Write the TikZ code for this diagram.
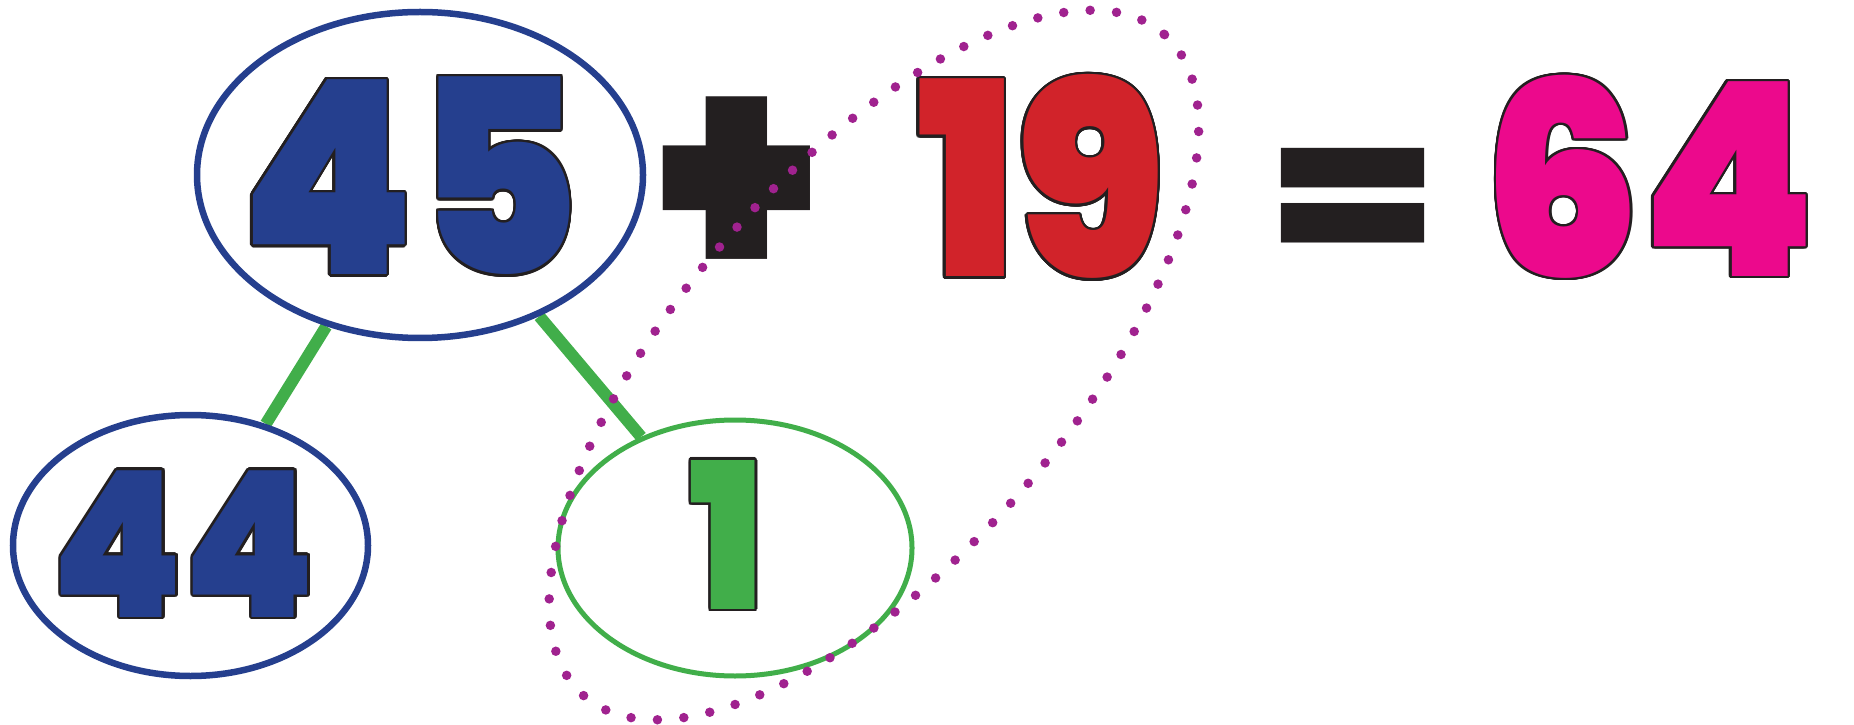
\documentclass[tikz,border=0pt]{standalone}
\usepackage{fontspec}
\usepackage{xcolor}
\usepackage{contour}
\usetikzlibrary{shapes.geometric,positioning,backgrounds}
\IfFontExistsTF{Poppins Black}{\newfontfamily\numfont{Poppins Black}[FakeStretch=0.92]}{\newfontfamily\numfont{Poppins}[UprightFont={* Bold},FakeStretch=0.92]}
\definecolor{ovalblue}{RGB}{37,63,142}
\definecolor{ovalgreen}{RGB}{65,174,74}
\definecolor{numred}{RGB}{209,35,42}
\definecolor{numpink}{RGB}{236,9,140}
\definecolor{inkblack}{RGB}{35,31,32}
\definecolor{dotpurple}{RGB}{160,34,143}
\contourlength{0.7pt}
\contournumber{24}
\newcommand\bignum[2]{{\numfont\fontsize{77}{77}\selectfont\color{#1}\contour{inkblack}{#2}}}
\newcommand\smallnum[2]{{\numfont\fontsize{58}{58}\selectfont\color{#1}\contour{inkblack}{#2}}}
\tikzset{
  oval/.style={ellipse, draw=#1, line width=0.065cm, fill=white, inner sep=0pt},
  link/.style={ovalgreen, line width=0.12cm},
  loop dots/.style={dotpurple, line width=0.095cm, line cap=round,
                    dash pattern=on 0pt off 0.265cm},
  sign/.style={inkblack, inner sep=0pt},
}
\begin{document}
\begin{tikzpicture}
  \useasboundingbox (0,0) rectangle (18.54,-7.25);
  % number bond
  \node[oval=ovalblue, minimum width=4.46cm, minimum height=3.26cm] (whole) at (4.20,-1.75) {};
  \node[oval=ovalblue, minimum width=3.55cm, minimum height=2.61cm] (left) at (1.905,-5.455) {};
  \node[oval=ovalgreen, line width=0.05cm, minimum width=3.54cm, minimum height=2.56cm] (right) at (7.35,-5.48) {};
  \begin{scope}[on background layer]
    \draw[link] (whole) -- (left);
    \draw[link] (whole) -- (right);
  \end{scope}
  \node (n45) at (4.10,-1.77) {\bignum{ovalblue}{45}};
  \node (n44) at (1.84,-5.45) {\smallnum{ovalblue}{44}};
  \node (n1) at (7.27,-5.36) {\smallnum{ovalgreen}{1}};
  % equation
  \node[sign] (plus) at (7.37,-1.92) {\numfont\fontsize{81}{81}\selectfont\scalebox{1.1}[1.12]{+}};
  \node (n19) at (10.41,-1.78) {\bignum{numred}{19}};
  \node[sign] (equals) at (13.53,-2.05) {\numfont\fontsize{56}{56}\selectfont\scalebox{1.35}[1]{=}};
  \node (n64) at (16.5,-1.78) {\bignum{numpink}{64}};
  % dotted loop round 19 and 1
  \coordinate (loopc) at (8.74,-3.65);
  \draw[loop dots, rotate around={48.75:(loopc)}] (loopc) ellipse (4.40 and 1.94);
\end{tikzpicture}
\end{document}
